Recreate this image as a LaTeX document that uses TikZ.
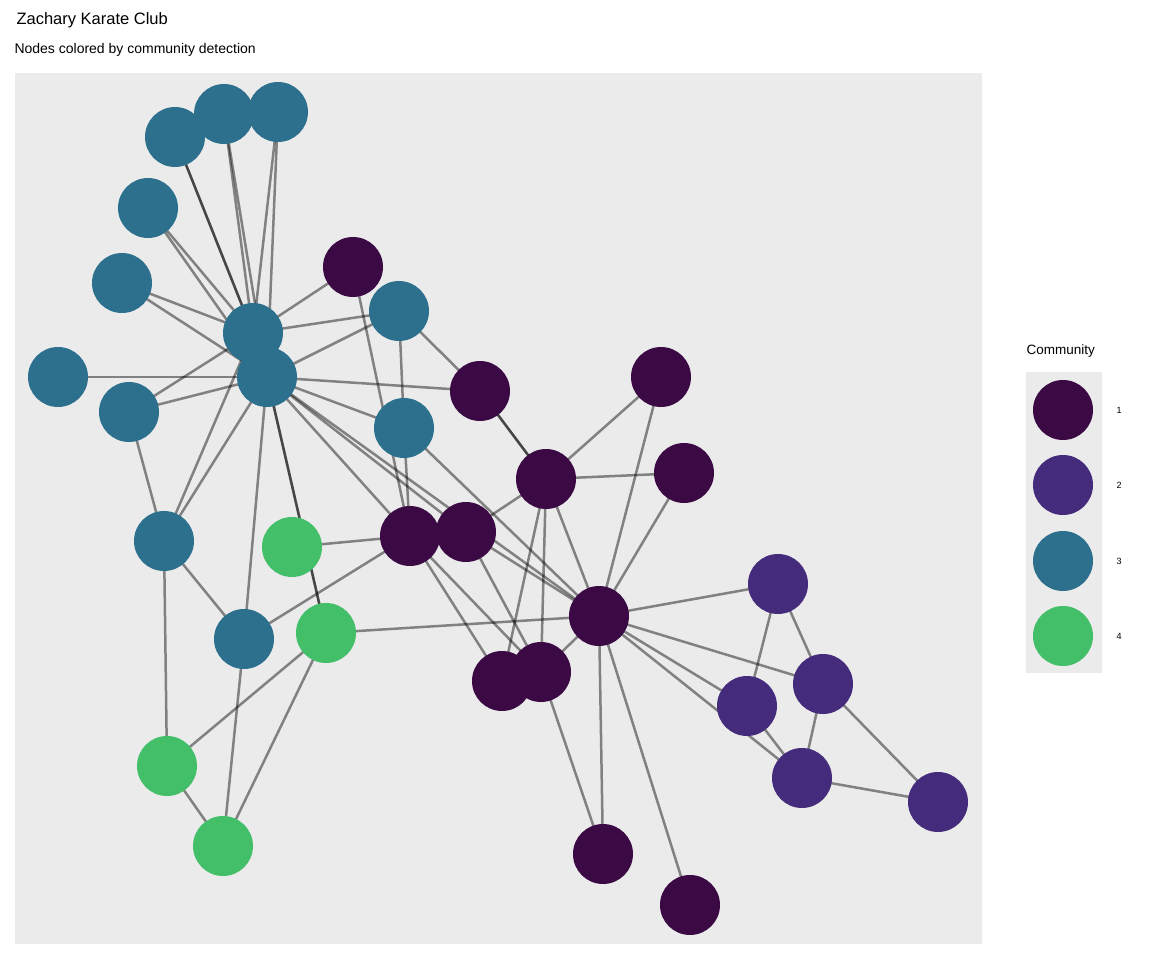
\documentclass[tikz,border=0pt]{standalone}
\usepackage{fontspec}
\setmainfont{Liberation Sans}
\usetikzlibrary{backgrounds}
\definecolor{cone}{HTML}{3B0A45}
\definecolor{ctwo}{HTML}{452B7B}
\definecolor{cthree}{HTML}{2D708E}
\definecolor{cfour}{HTML}{43BF6A}
\definecolor{panel}{HTML}{EBEBEB}
\begin{document}
\begin{tikzpicture}[x=1pt, y=-1pt,
  main/.style = {circle, minimum size=60pt, inner sep=0pt},
  tie/.style = {draw=black, opacity=0.45, line width=2.5pt}]
\useasboundingbox (0,0) rectangle (1152,960);
\node[anchor=west, font=\fontsize{16.5}{18}\selectfont] (title) at (13,20) {Zachary Karate Club};
\node[anchor=west, font=\fontsize{14}{16}\selectfont] (sub) at (11,50) {Nodes colored by community detection};
% community 3
\foreach \n/\x/\y in {b1/175/137, b2/224/114, b3/278/112, b4/148/208, b5/122/283, b6/253/333,
  b7/399/311, b8/58/377, b9/267/377, b10/129/412, b11/404/428, b12/164/541, b13/244/639}
  \node[main, fill=cthree] (\n) at (\x,\y) {};
% community 1
\foreach \n/\x/\y in {p1/353/267, p2/480/391, p3/661/377, p4/546/479, p5/684/473, p6/410/536,
  p7/466/532, p8/599/616, p9/502/681, p10/541/672, p11/603/854, p12/690/905}
  \node[main, fill=cone] (\n) at (\x,\y) {};
% community 2
\foreach \n/\x/\y in {q1/778/584, q2/823/684, q3/747/706, q4/802/778, q5/938/802}
  \node[main, fill=ctwo] (\n) at (\x,\y) {};
% community 4
\foreach \n/\x/\y in {g1/292/547, g2/326/633, g3/167/766, g4/223/846}
  \node[main, fill=cfour] (\n) at (\x,\y) {};
\begin{pgfonlayer}{background}
\fill[panel] (15,73) rectangle (982,944);
\fill[panel] (1026,372) rectangle (1102,673);
\foreach \a/\b in {b1/b6, b1/b6, b2/b6, b2/b9, b3/b6, b3/b9, b4/b6, b4/b9, b5/b6, b5/b9,
  b8/b9, b10/b6, b10/b9, b6/b7, b6/p1, b6/b12, b9/b7, b9/p2, b9/b11, b9/g2, b9/g2, b9/b12,
  b9/b13, b9/p6, b9/p8, b9/p7, b10/b12, b12/b13, b12/g3, b13/p6, b13/g4, g2/g3, g2/g4,
  g3/g4, g1/p6, g2/p8, p1/p6, b7/b11, b7/p2, b11/p6, b11/p8, p2/p4, p2/p4, p4/p3, p3/p8,
  p4/p5, p4/p8, p4/p9, p4/p10, p4/p7, p5/p8, p6/p9, p6/p10, p7/p8, p7/p10, p8/p10,
  p8/q1, p8/q2, p8/q3, p8/q4, p8/p11, p8/p12, p10/p11, q1/q3, q1/q2, q2/q4, q3/q4,
  q2/q5, q4/q5}
  \draw[tie] (\a.center) -- (\b.center);
\end{pgfonlayer}
% legend
\node[anchor=west, font=\fontsize{13.5}{15}\selectfont] (ltitle) at (1023,351) {Community};
\foreach \i/\c/\y in {1/cone/410, 2/ctwo/485, 3/cthree/561, 4/cfour/636} {
  \node[main, fill=\c] (k\i) at (1063,\y) {};
  \node[anchor=west, font=\fontsize{9}{10}\selectfont] (t\i) at (1113,\y) {\i};
}
\end{tikzpicture}
\end{document}
